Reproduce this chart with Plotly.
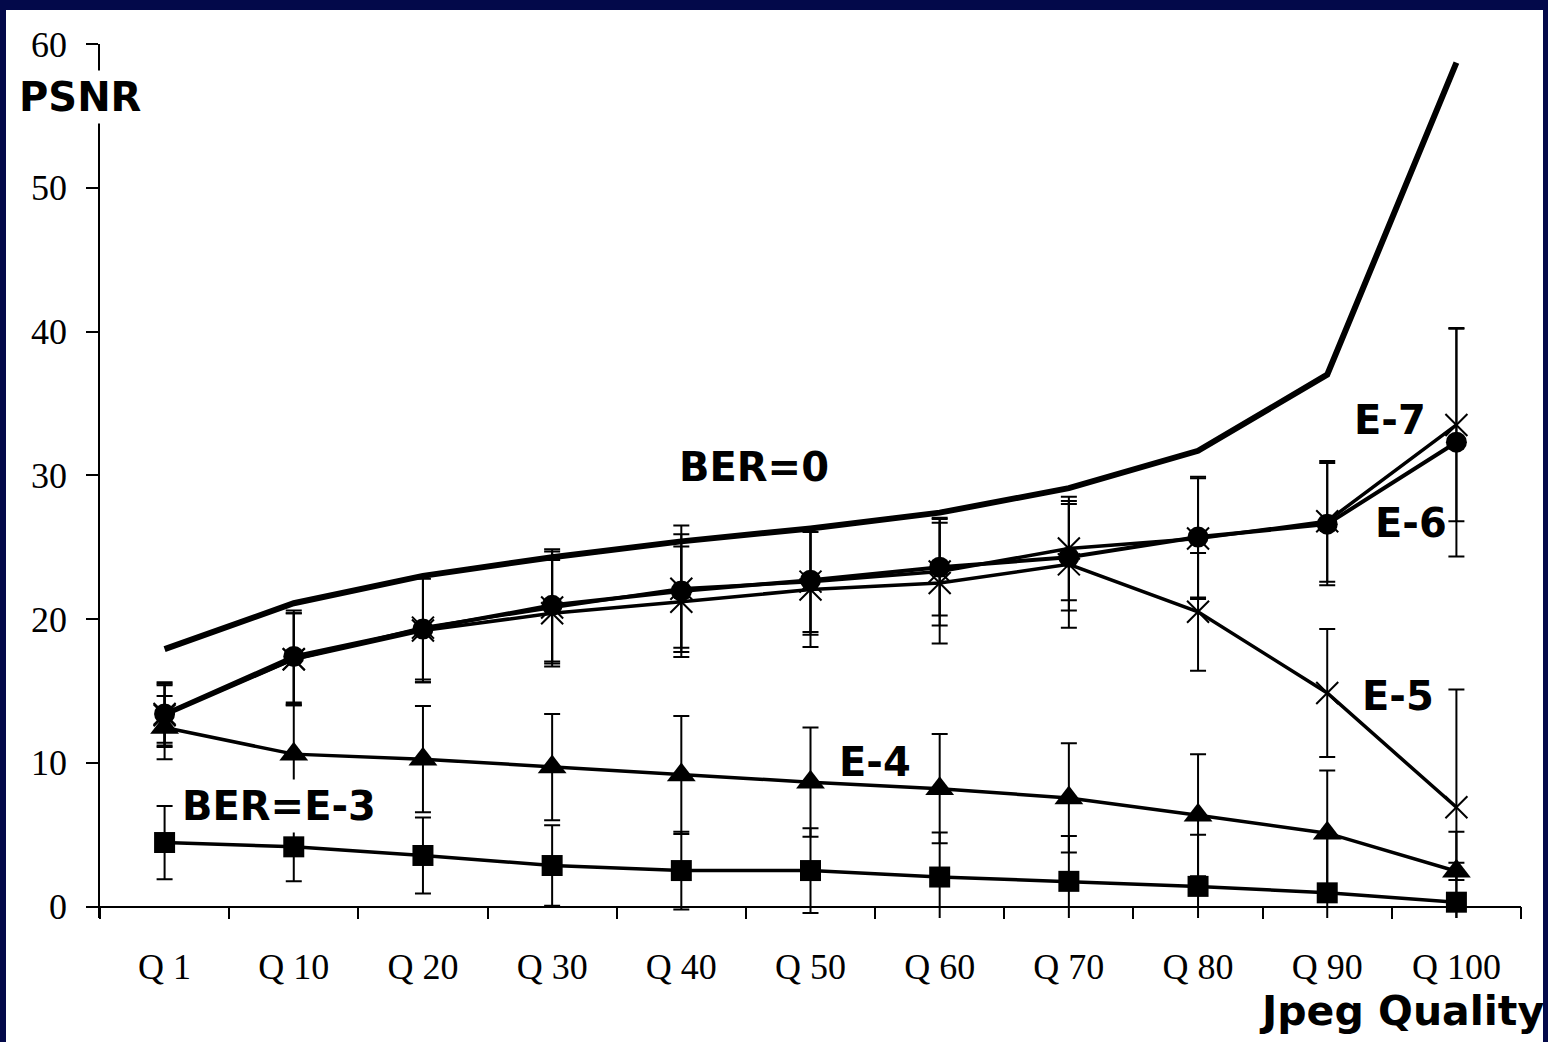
import plotly.graph_objects as go

# ---------------- data ----------------
categories = ["Q 1", "Q 10", "Q 20", "Q 30", "Q 40", "Q 50", "Q 60", "Q 70", "Q 80", "Q 90", "Q 100"]

ber0 = [17.9, 21.1, 23.0, 24.3, 25.4, 26.3, 27.4, 29.1, 31.7, 37.0, 58.7]

e7 = [13.4, 17.2, 19.4, 20.8, 22.1, 22.6, 23.3, 24.9, 25.6, 26.8, 33.5]
e7_err = [2.2, 3.2, 3.6, 3.9, 4.4, 3.7, 3.75, 3.6, 4.2, 4.2, 6.7]

e6 = [13.4, 17.4, 19.3, 20.95, 21.95, 22.7, 23.6, 24.3, 25.7, 26.6, 32.3]
e6_err = [2.0, 3.2, 3.7, 3.9, 3.95, 3.6, 3.35, 3.7, 4.2, 4.25, 7.95]

e5 = [13.3, 17.2, 19.2, 20.4, 21.2, 22.05, 22.5, 23.8, 20.5, 14.85, 6.9]
e5_err = [2.2, 3.2, 3.6, 3.7, 3.85, 4.0, 4.2, 4.4, 4.1, 4.45, 8.2]

e4 = [12.45, 10.6, 10.25, 9.7, 9.15, 8.65, 8.2, 7.55, 6.35, 5.1, 2.45]
e4_err = [2.2, 3.5, 3.7, 3.7, 4.1, 3.8, 3.8, 3.8, 4.25, 4.36, 0.6]

e3 = [4.45, 4.15, 3.55, 2.85, 2.5, 2.5, 2.05, 1.75, 1.4, 0.95, 0.3]
e3_err = [2.55, 2.4, 2.65, 2.8, 2.7, 2.95, 3.1, 3.15, 3.6, 3.9, 4.9]

y_ticks = [0, 10, 20, 30, 40, 50, 60]
y_min, y_max = -0.8, 60

# ---------------- layout geometry ----------------
W, H = 1548, 1042
L, R, T, B = 100, 1521, 44, 918


def pxx(px):
    return (px - L) / (R - L)


def pxy(py):
    return (B - py) / (B - T)


NAVY = "#03094a"
SERIF = "Liberation Serif, Times New Roman, serif"
SANS = "DejaVu Sans, Verdana, sans-serif"

fig = go.Figure()


def err(vals):
    return dict(type="data", array=vals, visible=True, color="black", thickness=2, width=8)


# BER = 0
fig.add_trace(go.Scatter(x=categories, y=ber0, mode="lines",
                         line=dict(color="black", width=6), showlegend=False))
# E-3 squares
fig.add_trace(go.Scatter(x=categories, y=e3, mode="lines+markers", error_y=err(e3_err),
                         line=dict(color="black", width=3.5),
                         marker=dict(symbol="square", size=21, color="black"), showlegend=False))
# E-4 triangles
fig.add_trace(go.Scatter(x=categories, y=e4, mode="lines+markers", error_y=err(e4_err),
                         line=dict(color="black", width=3.5),
                         marker=dict(symbol="triangle-up", size=25, color="black"), showlegend=False))
# E-5 crosses
fig.add_trace(go.Scatter(x=categories, y=e5, mode="lines+markers", error_y=err(e5_err),
                         line=dict(color="black", width=3.5),
                         marker=dict(symbol="x-thin", size=22, color="black",
                                     line=dict(color="black", width=2)), showlegend=False))
# E-7 crosses
fig.add_trace(go.Scatter(x=categories, y=e7, mode="lines+markers", error_y=err(e7_err),
                         line=dict(color="black", width=3.5),
                         marker=dict(symbol="x-thin", size=22, color="black",
                                     line=dict(color="black", width=2)), showlegend=False))
# E-6 circles
fig.add_trace(go.Scatter(x=categories, y=e6, mode="lines+markers", error_y=err(e6_err),
                         line=dict(color="black", width=4),
                         marker=dict(symbol="circle", size=21, color="black"), showlegend=False))

# ---------------- annotations ----------------
def label(text, cx, cy, bg=None, anchor="center", size=40):
    a = dict(text="<b>%s</b>" % text, xref="paper", yref="paper",
             x=pxx(cx), y=pxy(cy), xanchor=anchor, yanchor="middle",
             showarrow=False, font=dict(family=SANS, size=size, color="black"))
    if bg:
        a.update(bgcolor=bg, borderpad=3)
    fig.add_annotation(**a)


label("PSNR", 80, 97, bg="white")
label("BER=0", 754, 467)
label("BER=E-3", 279, 806, bg="white")
label("E-4", 875, 762)
label("E-5", 1398, 696)
label("E-6", 1411, 523)
label("E-7", 1390, 420)
label("Jpeg Quality", 1257, 1011, anchor="left", size=41)

# white slide panel
fig.add_shape(type="rect", xref="paper", yref="paper",
              x0=pxx(6), x1=pxx(1543), y0=pxy(1042) - 0.01, y1=pxy(10),
              fillcolor="white", line=dict(width=0), layer="below")

fig.update_layout(
    width=W, height=H,
    margin=dict(l=L, r=W - R, t=T, b=H - B, pad=0),
    paper_bgcolor=NAVY, plot_bgcolor="white",
    showlegend=False,
    xaxis=dict(type="category", categoryorder="array", categoryarray=categories,
               range=[-0.5, len(categories) - 0.5],
               tickson="boundaries", ticks="outside", ticklen=12, tickwidth=1.5, tickcolor="black",
               showline=True, linecolor="black", linewidth=1.5, showgrid=False, zeroline=False,
               anchor="free", position=(0 - y_min) / (y_max - y_min),
               tickfont=dict(family=SERIF, size=36, color="black"), ticklabelstandoff=29),
    yaxis=dict(range=[y_min, y_max], tickvals=y_ticks, ticktext=[str(v) for v in y_ticks],
               ticks="outside", ticklen=12, tickwidth=1.5, tickcolor="black",
               showline=True, linecolor="black", linewidth=1.5, showgrid=False, zeroline=False,
               tickfont=dict(family=SERIF, size=36, color="black"), ticklabelstandoff=12),
)

fig.write_html("out.html")
